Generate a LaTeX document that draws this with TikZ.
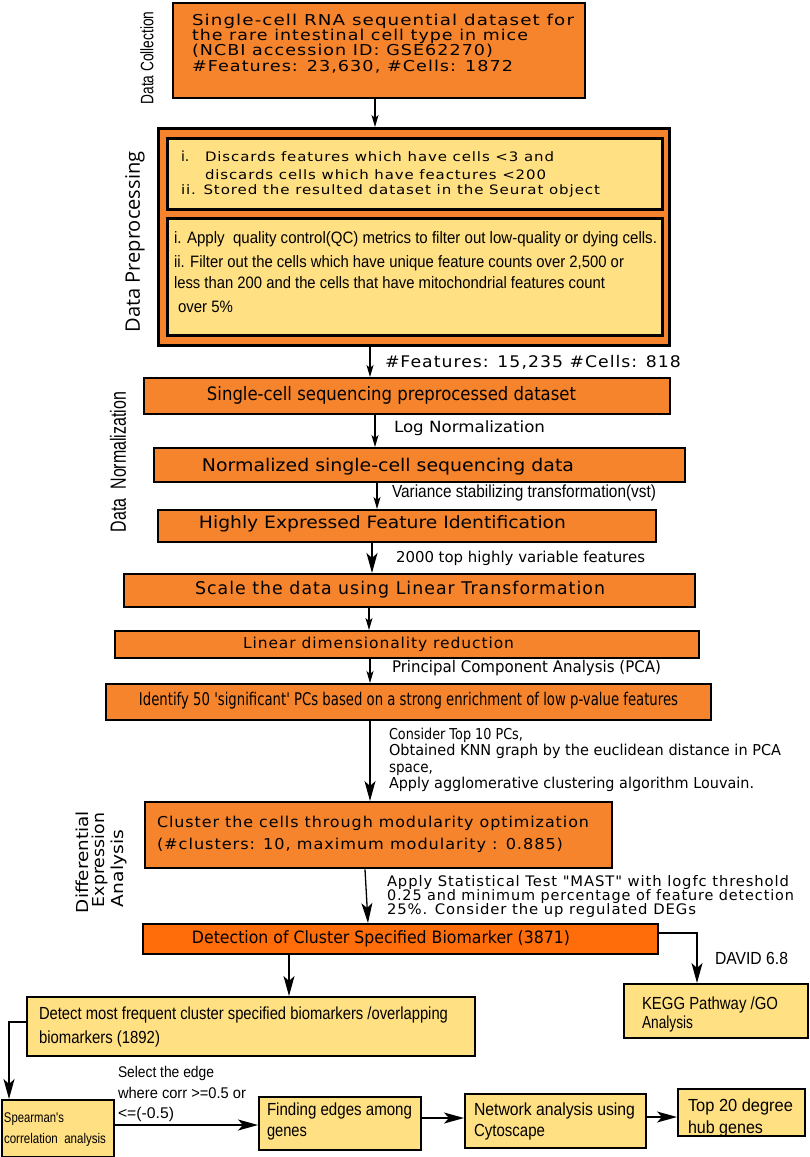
\documentclass[tikz,border=0pt]{standalone}
\usepackage{fontspec}
\usepackage{graphicx}
\usetikzlibrary{arrows.meta}
\setmainfont{DejaVu Sans}
\newfontfamily\dv{DejaVu Sans}
\newfontfamily\dvw[LetterSpace=6]{DejaVu Sans}
\newfontfamily\dvc[FakeStretch=0.82]{DejaVu Sans}
\newfontfamily\nar[FakeStretch=0.85]{Liberation Sans}
\newfontfamily\osn{Open Sans}
\definecolor{org}{HTML}{F6842C}
\definecolor{dorg}{HTML}{FF6C0A}
\definecolor{ylw}{HTML}{FFE083}
\newcommand\fitw[2]{\resizebox{#1pt}{\height}{#2}}
\newcommand\fs[1]{\fontsize{#1}{#1}\selectfont}
% box: style, name, x1, y1, x2, y2
\newcommand\bx[6]{\node[#1,anchor=north west,minimum width={(#5-#3)*1pt},minimum height={(#6-#4)*1pt}] (#2) at (#3,#4) {};}
% text line: name, anchor, font, position, width, text
\newcommand\tline[6]{\node[tl,anchor=#2,font=#3] (#1) at (#4) {\fitw{#5}{#6}};}
\tikzset{
  obox/.style={draw=black,line width=2.4pt,fill=org,inner sep=0pt},
  dbox/.style={draw=black,line width=2.4pt,fill=dorg,inner sep=0pt},
  ybox/.style={draw=black,line width=2.4pt,fill=ylw,inner sep=0pt},
  tl/.style={inner sep=0pt,outer sep=0pt},
  sarr/.style={line width=1.2pt,-{Stealth[length=12pt,width=7pt,inset=3pt]}},
  barr/.style={line width=1.3pt,-{Stealth[length=20pt,width=11pt,inset=5pt]}}
}
\begin{document}
\begin{tikzpicture}[x=1pt,y=-1pt]
\fill[white] (0,0) rectangle (809,1157);
\useasboundingbox (0,0) rectangle (809,1157);

% ---------- boxes ----------
\bx{obox}{coll}{172}{2}{584}{97}
\bx{obox,line width=3pt}{preO}{157}{127}{668}{344}
\bx{ybox,line width=3.4pt}{pre1}{166}{137}{661}{208}
\bx{ybox,line width=3.4pt}{pre2}{166}{217}{661}{334}
\bx{obox}{sc}{143}{377}{669}{413}
\bx{obox}{norm}{153}{447}{684}{481}
\bx{obox}{hi}{157}{509}{655}{541}
\bx{obox}{sca}{123}{573}{694}{606}
\bx{obox}{lin}{114}{630}{698}{657}
\bx{obox}{idf}{105}{683}{710}{719}
\bx{obox}{clu}{144}{801}{611}{867}
\bx{dbox}{det}{142}{923}{657}{953}
\bx{ybox}{kegg}{623}{983}{807}{1037}
\bx{ybox}{dmf}{26}{996}{474}{1055}
\bx{ybox}{spe}{1}{1099}{113}{1156}
\bx{ybox}{fnd}{258}{1096}{420}{1149}
\bx{ybox}{net}{464}{1093}{645}{1147}
\bx{ybox}{top}{677}{1088}{804}{1135}

% ---------- side labels ----------
\node[tl,rotate=90,font=\nar\fs{18}] (lcoll) at (147,58) {\fitw{93}{Data Collection}};
\node[tl,rotate=90,font=\osn\fs{20}] (lpre) at (135,242) {\fitw{181}{Data Preprocessing}};
\node[tl,rotate=90,font=\nar\fs{22}] (lnorm) at (118,462) {\fitw{140}{Data\ \ Normalization}};
\node[tl,rotate=90,anchor=west,font=\dv\fs{16.5}] (ldif1) at (82,913) {\fitw{102}{Differential}};
\node[tl,rotate=90,anchor=west,font=\dv\fs{16.5}] (ldif2) at (100,907) {\fitw{94}{Expression}};
\node[tl,rotate=90,anchor=west,font=\dv\fs{16.5}] (ldif3) at (119,907) {\fitw{77}{Analysis}};

% ---------- texts ----------
\tline{c1}{base west}{\dvw\fs{15}}{192,25}{382}{Single-cell RNA sequential dataset for}
\tline{c2}{base west}{\dvw\fs{15}}{192,40}{336}{the rare intestinal cell type in mice}
\tline{c3}{base west}{\dvw\fs{15}}{192,55}{301}{(NCBI accession ID: GSE62270)}
\tline{c4}{base west}{\dvw\fs{15}}{192,71}{321}{\#Features: 23,630, \#Cells: 1872}

\node[tl,anchor=base west,font=\dv\fs{14}] (p1i) at (181,161) {i.};
\tline{p1a}{base west}{\dvw\fs{13}}{205,161}{349}{Discards features which have cells <3 and}
\tline{p1b}{base west}{\dvw\fs{13}}{205,179}{341}{discards cells which have feactures <200}
\tline{p1c}{base west}{\dvw\fs{13}}{181,194}{419}{ii. Stored the resulted dataset in the Seurat object}

\tline{p2a}{base west}{\nar\fs{16.5}}{174,243}{483}{i. Apply\ \ quality control(QC) metrics to filter out low-quality or dying cells.}
\tline{p2b}{base west}{\nar\fs{16.5}}{174,267}{450}{ii. Filter out the cells which have unique feature counts over 2,500 or}
\tline{p2c}{base west}{\nar\fs{16.5}}{174,288}{431}{less than 200 and the cells that have mitochondrial features count}
\tline{p2d}{base west}{\nar\fs{16.5}}{178,312}{55}{over 5\%}

\tline{f2}{base west}{\dvw\fs{16}}{385,367}{296}{\#Features: 15,235 \#Cells: 818}
\tline{tsc}{base}{\dvc\fs{18.5}}{391.5,400}{369}{Single-cell sequencing preprocessed dataset}
\tline{tlog}{base west}{\dv\fs{15.5}}{394,432}{151}{Log Normalization}
\tline{tnorm}{base}{\dv\fs{17.5}}{388,471}{372}{Normalized single-cell sequencing data}
\tline{tvst}{base west}{\nar\fs{17.5}}{392,497}{264}{Variance stabilizing transformation(vst)}
\tline{thi}{base}{\dv\fs{17}}{382.5,528}{367}{Highly Expressed Feature Identification}
\tline{t2000}{base west}{\dv\fs{15}}{396,562}{249}{2000 top highly variable features}
\tline{tsca}{base}{\dvw\fs{17.5}}{400,594}{410}{Scale the data using Linear Transformation}
\tline{tlin}{base west}{\dvw\fs{15}}{243,648}{271}{Linear dimensionality reduction}
\tline{tpca}{base west}{\dv\fs{16}}{392,672}{269}{Principal Component Analysis (PCA)}
\tline{tidf}{base}{\dvc\fs{17.5}}{408.5,705}{539}{Identify 50 'significant' PCs based on a strong enrichment of low p-value features}

\tline{k1}{base west}{\dv\fs{15}}{389,739}{134}{Consider Top 10 PCs,}
\tline{k2}{base west}{\dv\fs{15}}{389,755}{392}{Obtained KNN graph by the euclidean distance in PCA}
\tline{k3}{base west}{\dv\fs{15}}{389,772}{44}{space,}
\tline{k4}{base west}{\dv\fs{15}}{389,788}{365}{Apply agglomerative clustering algorithm Louvain.}

\tline{cl1}{base west}{\dvw\fs{15}}{157,827}{432}{Cluster the cells through modularity optimization}
\tline{cl2}{base west}{\dvw\fs{15}}{157,849}{406}{(\#clusters: 10, maximum modularity : 0.885)}

\tline{m1}{base west}{\dvw\fs{14.5}}{387,886}{402}{Apply Statistical Test "MAST" with logfc threshold}
\tline{m2}{base west}{\dvw\fs{14.5}}{387,900}{407}{0.25 and minimum percentage of feature detection}
\tline{m3}{base west}{\dvw\fs{14.5}}{387,914}{309}{25\%. Consider the up regulated DEGs}

\tline{tdet}{base}{\dvc\fs{17}}{381,943}{378}{Detection of Cluster Specified Biomarker (3871)}
\tline{tdav}{base west}{\nar\fs{17.5}}{715,964}{73}{DAVID 6.8}
\tline{kg1}{base west}{\nar\fs{17.5}}{642,1009}{136}{KEGG Pathway /GO}
\tline{kg2}{base west}{\nar\fs{17.5}}{642,1028}{51}{Analysis}
\tline{d1}{base west}{\nar\fs{17.5}}{39,1019}{409}{Detect most frequent cluster specified biomarkers /overlapping}
\tline{d2}{base west}{\nar\fs{17.5}}{39,1043}{121}{biomarkers (1892)}
\tline{s1}{base west}{\nar\fs{15.5}}{118,1077}{96}{Select the edge}
\tline{s2}{base west}{\nar\fs{15.5}}{118,1098}{128}{where corr >=0.5 or}
\tline{s3}{base west}{\nar\fs{15.5}}{118,1118}{56}{<=(-0.5)}
\tline{sp1}{base west}{\nar\fs{14}}{4,1122}{60}{Spearman's}
\tline{sp2}{base west}{\nar\fs{14}}{4,1143}{102}{correlation\ \ analysis}
\tline{fn1}{base west}{\nar\fs{17.5}}{267,1115}{145}{Finding edges among}
\tline{fn2}{base west}{\nar\fs{17.5}}{267,1136}{40}{genes}
\tline{nt1}{base west}{\nar\fs{17.5}}{474,1115}{161}{Network analysis using}
\tline{nt2}{base west}{\nar\fs{17.5}}{474,1136}{71}{Cytoscape}
\tline{tp1}{base west}{\nar\fs{17.5}}{688,1111}{105}{Top 20 degree}
\tline{tp2}{base west}{\nar\fs{17.5}}{688,1133}{75}{hub genes}

% ---------- connectors ----------
\coordinate (x1) at (375,0);
\coordinate (x2) at (370,0);
\coordinate (x3) at (375,0);
\coordinate (x4) at (377,0);
\coordinate (x5) at (372,0);
\coordinate (x6) at (369,0);
\coordinate (x7) at (370,0);
\coordinate (x8) at (370,0);
\coordinate (x9a) at (365,0);
\coordinate (x9b) at (368,0);
\coordinate (x11) at (289,0);
\coordinate (q1) at (697,933);
\coordinate (q2) at (9,1022);
\coordinate (q3) at (0,1125);
\coordinate (q4) at (0,1118);
\coordinate (q5) at (0,1117);

\draw[sarr] (coll.south -| x1) -- (preO.north -| x1);
\draw[sarr] (preO.south -| x2) -- (sc.north -| x2);
\draw[sarr] (sc.south -| x3) -- (norm.north -| x3);
\draw[sarr] (norm.south -| x4) -- (hi.north -| x4);
\draw[barr] (hi.south -| x5) -- (sca.north -| x5);
\draw[sarr] (sca.south -| x6) -- (lin.north -| x6);
\draw[sarr] (lin.south -| x7) -- (idf.north -| x7);
\draw[barr] (idf.south -| x8) -- (clu.north -| x8);
\draw[barr] (clu.south -| x9a) -- (det.north -| x9b);
\draw[barr] (det.east |- q1) -| (kegg.north -| q1);
\draw[barr] (det.south -| x11) -- (dmf.north -| x11);
\draw[barr] (dmf.west |- q2) -| (spe.north -| q2);
\draw[barr] (spe.east |- q3) -- (fnd.west |- q3);
\draw[barr] (fnd.east |- q4) -- (net.west |- q4);
\draw[barr] (net.east |- q5) -- (top.west |- q5);
\end{tikzpicture}
\end{document}
